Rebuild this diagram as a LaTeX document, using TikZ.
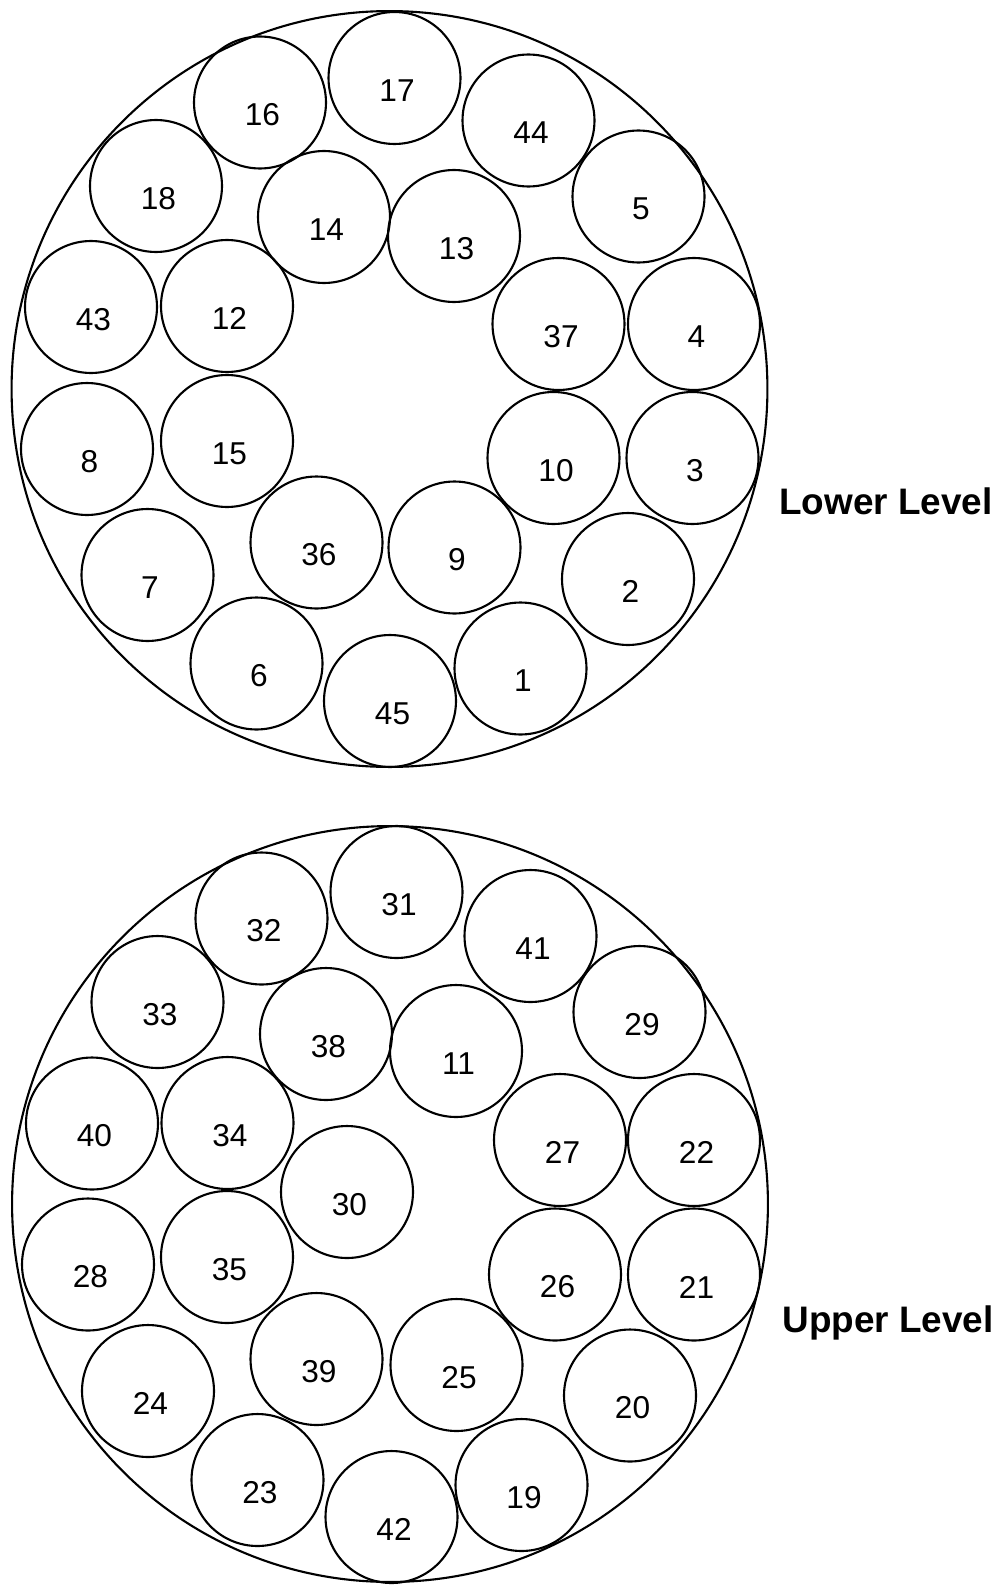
\documentclass[tikz,border=0pt]{standalone}
\usepackage{fontspec}
\setmainfont{Liberation Sans}

\tikzset{
    tube/.style={circle, draw, line width=1.2pt, minimum size=2.64cm, inner sep=0pt},
    tubenum/.style={font=\fontsize{18}{18}\selectfont, inner sep=0pt, xshift=0.05cm, yshift=-0.25cm},
    levelname/.style={font=\fontsize{21}{21}\selectfont\bfseries, anchor=base west, inner sep=0pt}
}

\begin{document}
\begin{tikzpicture}[x=0.02cm, y=-0.02cm]
\useasboundingbox (0,0) rectangle (996,1585);

	% lower level
	\draw[line width=1.2pt] (389.5,389) circle [radius=7.56cm];
	\foreach \n/\x/\y in {17/394.5/78, 16/260/102.5, 44/528.5/120.5, 18/156/186,
        14/324/217, 13/454/236, 5/638.5/196.5, 43/91/307, 12/227/306, 37/558.5/324,
        4/694/324, 8/87/449, 15/227/441, 10/553.5/458, 3/692.5/458, 36/316.5/542.5,
        9/454.5/547.5, 7/147.5/575, 2/628/579, 6/256.5/663.5, 45/390/701, 1/520.5/668.5} {
        \node[tube, label={[tubenum]center:\n}] (tube\n) at (\x,\y) {};
    }
	\node[levelname] (lower) at (779,514) {Lower Level};

	% upper level
	\draw[line width=1.2pt] (390,1204) circle [radius=7.56cm];
	\foreach \n/\x/\y in {31/396.5/892, 32/261.5/918.5, 41/530.5/936, 33/157.5/1002,
        38/326/1034, 11/456/1051, 29/639.5/1012, 40/92/1123.5, 34/227.5/1123,
        27/560/1140, 22/694/1140, 30/347/1192, 28/88/1264.5, 35/227/1257,
        26/555/1274.5, 21/694/1274.5, 39/316.5/1359, 25/456.5/1365, 24/148/1391,
        20/630/1395.5, 23/257.5/1480, 42/391.5/1517, 19/521.5/1485} {
        \node[tube, label={[tubenum]center:\n}] (tube\n) at (\x,\y) {};
    }
	\node[levelname] (upper) at (782,1332) {Upper Level};
\end{tikzpicture}
\end{document}
